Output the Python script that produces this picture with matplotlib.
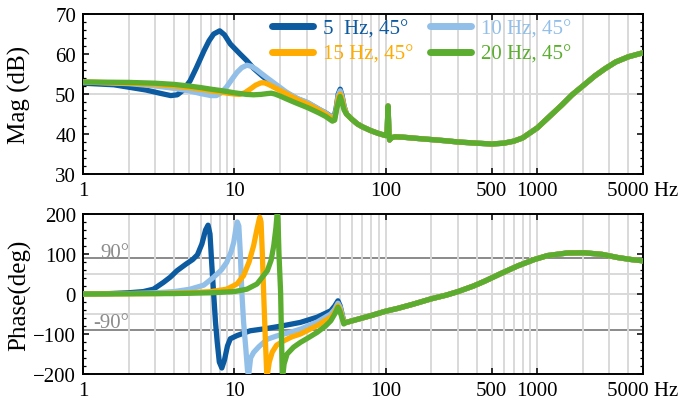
import matplotlib
matplotlib.use('Agg')
import matplotlib.pyplot as plt
import numpy as np
from matplotlib.ticker import MultipleLocator, FixedLocator, NullFormatter, LogLocator

plt.rcParams['font.family'] = ['Liberation Serif', 'DejaVu Serif']
plt.rcParams['mathtext.fontset'] = 'stix'

# ---------------- data ----------------
labels = ['5  Hz, 45°', '10 Hz, 45°', '15 Hz, 45°', '20 Hz, 45°']
colors = ['#0c5aa0', '#92bfe8', '#ffab00', '#5aad2e']

# magnitude, low-frequency part (differs per curve)
f_mag_5 = [1, 1.6, 2.6, 3.3, 3.8, 4.2, 4.6, 5.1, 5.6, 6.3, 6.8, 7.3, 8.0, 8.6, 9.4, 10.9,
           12.1, 13.4, 15.5, 18.2, 22, 26, 30.4, 36, 40, 43.5, 45.5, 47, 48.5, 50, 51.5, 53]
mag_5 = [52.7, 52.3, 51.0, 50.1, 49.6, 49.8, 51.0, 53.3, 56.5, 60.8, 63.3, 65.0, 65.8, 64.8, 62.5, 60.0,
         58.3, 56.4, 54.3, 52.3, 50.3, 48.8, 47.8, 46.2, 45.3, 44.4, 44.0, 46.5, 50.0, 51.2, 49.5, 47.0]

f_mag_10 = [1, 2, 3, 4, 5, 6, 7, 7.6, 8.2, 8.9, 9.6, 10.4, 11.2, 12.1, 13, 14, 15, 16.5, 18.2,
            22, 26, 30.4, 36, 40, 43.5, 45.5, 47, 48.5, 50, 51.5, 53]
mag_10 = [53.0, 52.6, 52.0, 51.4, 50.8, 50.1, 49.6, 49.6, 50.3, 51.8, 53.6, 55.4, 56.6, 57.2, 56.9, 56.1,
          55.2, 54.0, 52.8, 50.5, 48.9, 47.9, 46.3, 45.3, 44.3, 43.8, 46.0, 49.6, 50.8, 49.2, 46.8]

f_mag_15 = [1, 2, 3, 4, 5, 6, 7, 8, 9, 10, 10.8, 11.7, 12.7, 13.8, 15, 15.8, 17, 18.2, 20, 22,
            26, 30.4, 36, 40, 43.5, 45.5, 47, 48.5, 50, 51.5, 53]
mag_15 = [53.0, 52.7, 52.4, 52.0, 51.6, 51.2, 50.8, 50.5, 50.2, 50.0, 49.9, 50.3, 51.2, 52.2, 52.8, 52.8,
          52.3, 51.7, 50.9, 50.1, 48.6, 47.5, 46.0, 45.0, 44.0, 43.4, 45.6, 49.0, 50.0, 48.7, 46.5]

f_mag_20 = [1, 2, 3, 4, 5, 6, 7, 8, 9, 10, 11, 12, 13.4, 15, 16.5, 17.5, 18.5, 20, 22, 25,
            30.4, 36, 40, 44.4, 46, 47.5, 49.9, 51.5, 53]
mag_20 = [53.0, 52.9, 52.7, 52.4, 52.0, 51.6, 51.2, 50.9, 50.6, 50.3, 50.1, 49.9, 49.8, 49.9, 50.1, 50.2,
          50.0, 49.5, 48.8, 47.9, 46.6, 45.3, 44.4, 43.2, 43.5, 46.5, 49.4, 47.8, 46.0]

# magnitude, high-frequency part (all curves coincide)
f_mag_tail = [55, 60, 65, 70, 80, 90, 100, 102, 103.5, 105, 106, 108, 115, 130, 160, 200, 250, 300,
              400, 500, 600, 700, 800, 1000, 1200, 1450, 1700, 2000, 2400, 2800, 3300, 4000, 5000]
mag_tail = [45.0, 43.6, 42.5, 41.8, 40.8, 40.1, 39.6, 40.3, 47.0, 40.0, 38.5, 39.0, 39.3, 39.2, 38.9,
            38.6, 38.3, 38.0, 37.7, 37.5, 37.7, 38.2, 39.0, 41.5, 44.3, 47.2, 49.8, 52.0, 54.5, 56.3,
            58.0, 59.3, 60.3]

# phase, low-frequency part
f_ph_5 = [1, 1.5, 2, 2.5, 2.92, 3.4, 3.77, 4.17, 4.8, 5.3, 5.7, 6.1, 6.45, 6.7, 6.9, 7.1, 7.3, 7.5,
          7.7, 7.95, 8.26, 8.6, 9.0, 9.4, 10.4, 12.7, 16.5, 21.2, 27.3, 35.2, 43.3, 46, 48.3, 50, 52.8]
ph_5 = [0, 1, 3, 6, 12, 29, 42, 58, 75, 86, 98, 125, 160, 172, 150, 70, 0, -70,
        -120, -170, -185, -165, -130, -112, -104, -92, -86, -79, -71, -58, -42, -30, -17, -30, -69]

f_ph_10 = [1, 2, 3, 4, 5.1, 6.27, 7.3, 8.2, 8.9, 9.5, 9.9, 10.2, 10.45, 10.7, 10.95, 11.2, 11.5,
           11.9, 12.2, 12.4, 12.8, 13.4, 14.5, 16.5, 19, 22.3, 27.3, 35.2, 43.3, 46, 48.3, 50, 52.8]
ph_10 = [0, 1, 3, 6, 12, 22, 42, 60, 79, 105, 129, 160, 180, 170, 100, 4, -70,
         -137, -190, -205, -160, -146, -132, -113, -105, -98, -88, -70, -50, -38, -23, -33, -70]

f_ph_15 = [1, 3, 5, 7, 8.9, 10.4, 11.5, 12.5, 13.4, 14.1, 14.7, 15.0, 15.3, 15.6, 16.0, 16.4, 17,
           17.8, 19, 21.2, 24, 27.3, 35.2, 43.3, 46, 48.3, 50, 52.8]
ph_15 = [0, 1, 3, 6, 12, 25, 46, 80, 121, 162, 192, 180, 100, 4, -110, -210, -170,
         -145, -128, -117, -107, -100, -79, -58, -45, -29, -40, -72]

f_ph_20 = [1, 4, 7, 10, 12.1, 14.1, 16.5, 17.5, 18.2, 18.8, 19.2, 19.4, 19.7, 20.2, 20.5, 20.8,
           21.3, 22.3, 24.6, 27.3, 30, 35.2, 40, 43.3, 46, 48.3, 50, 52.8]
ph_20 = [0, 1, 3, 6, 12, 25, 58, 85, 121, 165, 205, 190, 100, 4, -120, -210,
         -175, -150, -133, -121, -112, -96, -80, -67, -50, -33, -45, -75]

# phase, high-frequency part
f_ph_tail = [55, 60, 70, 80, 92, 100, 120, 150, 200, 250, 300, 380, 450, 575, 742, 955, 1170,
             1580, 2050, 2680, 3420, 4200, 5000]
ph_tail = [-71, -67, -60, -54, -47, -43, -36, -26, -12, -3, 6, 20, 32, 51, 70, 86, 96,
           102.5, 103, 99, 91, 86, 83]

f_mag = [f_mag_5, f_mag_10, f_mag_15, f_mag_20]
mags = [mag_5, mag_10, mag_15, mag_20]
f_ph = [f_ph_5, f_ph_10, f_ph_15, f_ph_20]
phs = [ph_5, ph_10, ph_15, ph_20]

xticks = [1, 10, 100, 500, 1000, 5000]
xticklabels = ['1', '10', '100', '500', '1000', '5000 Hz']

# ---------------- figure ----------------
fig = plt.figure(figsize=(6.78, 4.02), dpi=100)
ax1 = fig.add_axes([0.1224, 0.5647, 0.826, 0.398])
ax2 = fig.add_axes([0.1224, 0.0672, 0.826, 0.398])

lw = 3.8
grid_c = '#d9d9d9'

for i in range(4):
    ff = np.concatenate([f_mag[i], f_mag_tail])
    mm = np.concatenate([mags[i], mag_tail])
    ax1.plot(ff, mm, color=colors[i], lw=lw, label=labels[i], solid_capstyle='round', zorder=3 + i)
    ff = np.concatenate([f_ph[i], f_ph_tail])
    pp = np.concatenate([phs[i], ph_tail])
    ax2.plot(ff, pp, color=colors[i], lw=lw, solid_capstyle='round', zorder=3 + i)

for ax in (ax1, ax2):
    ax.set_xscale('log')
    ax.set_xlim(1, 5000)
    ax.xaxis.set_major_locator(FixedLocator(xticks))
    ax.set_xticklabels(xticklabels)
    ax.xaxis.set_minor_locator(LogLocator(base=10, subs=np.arange(2, 10)))
    ax.xaxis.set_minor_formatter(NullFormatter())
    ax.grid(True, axis='x', which='both', color=grid_c, lw=1.4, zorder=0)
    ax.tick_params(which='both', direction='in', top=True, right=True, labelsize=15)
    ax.tick_params(which='major', length=4.5, width=1.1, pad=5)
    ax.tick_params(axis='y', which='minor', length=2.5, width=0.9)
    ax.tick_params(axis='x', which='minor', length=0)
    for s in ax.spines.values():
        s.set_linewidth(1.4)

ax1.set_ylim(30, 70)
ax1.yaxis.set_major_locator(MultipleLocator(10))
ax1.yaxis.set_minor_locator(MultipleLocator(2))
ax1.axhline(50, color=grid_c, lw=1.4, zorder=0)
ax1.set_ylabel('Mag (dB)', fontsize=18)
ax1.yaxis.set_label_coords(-0.093, 0.5)

ax2.set_ylim(-200, 200)
ax2.yaxis.set_major_locator(MultipleLocator(100))
ax2.yaxis.set_minor_locator(MultipleLocator(20))
for yv in [-50, 0, 50]:
    ax2.axhline(yv, color=grid_c, lw=1.4, zorder=0)
ax2.axhline(90, color='#8a8a8a', lw=1.4, zorder=1)
ax2.axhline(-90, color='#8a8a8a', lw=1.4, zorder=1)
ax2.text(1.296, 93, '90°', color='#8c8c8c', fontsize=15, va='baseline', ha='left')
ax2.text(1.165, -82.5, '-90°', color='#8c8c8c', fontsize=15, va='baseline', ha='left')
ax2.set_ylabel('Phase(deg)', fontsize=18)
ax2.yaxis.set_label_coords(-0.093, 0.5)

# legend order: column 1 -> 5, 15 ; column 2 -> 10, 20
h, l = ax1.get_legend_handles_labels()
order = [0, 2, 1, 3]
leg = ax1.legend([h[k] for k in order], [l[k] for k in order], ncol=2, frameon=False,
                 loc='upper left', bbox_to_anchor=(0.3375, 0.972), borderpad=0, borderaxespad=0,
                 fontsize=15, handlelength=1.95, handletextpad=0.5, columnspacing=0.8,
                 labelspacing=0.3)
for line in leg.get_lines():
    line.set_linewidth(5)
for txt, k in zip(leg.get_texts(), order):
    txt.set_color(colors[k])
leg.set_zorder(10)

fig.savefig('out.png', dpi=100)
